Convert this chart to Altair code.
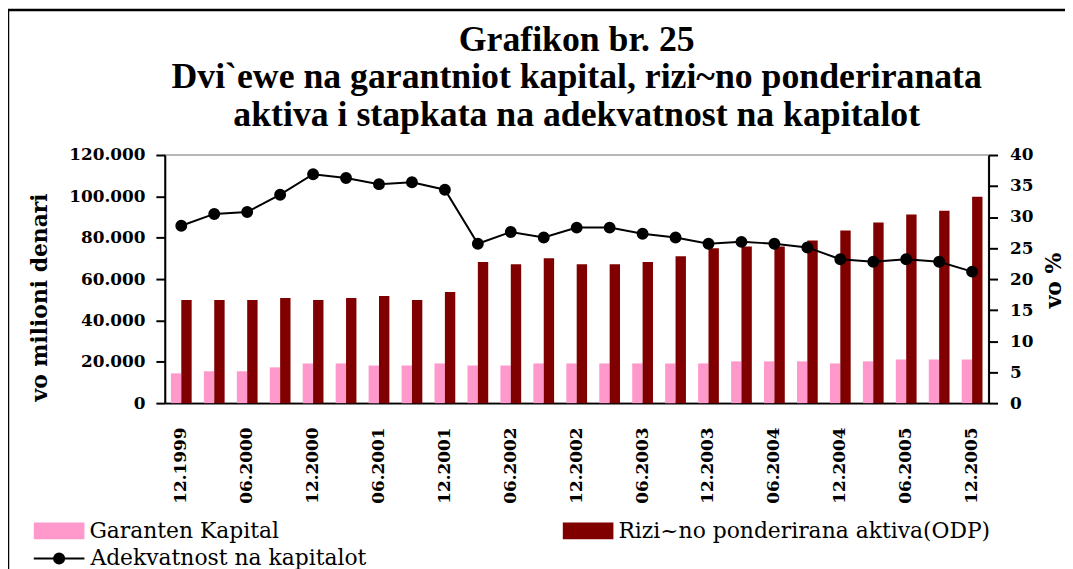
import altair as alt
import pandas as pd

periods = ["12.1999", "03.2000", "06.2000", "09.2000", "12.2000", "03.2001", "06.2001",
           "09.2001", "12.2001", "03.2002", "06.2002", "09.2002", "12.2002", "03.2003",
           "06.2003", "09.2003", "12.2003", "03.2004", "06.2004", "09.2004", "12.2004",
           "03.2005", "06.2005", "09.2005", "12.2005"]
tick_labels = periods[::2]

garanten = [14400, 15400, 15400, 17300, 19200, 19200, 18200, 18200, 19200, 18200,
            18200, 19200, 19200, 19200, 19200, 19200, 19200, 20200, 20200, 20200,
            19200, 20200, 21100, 21100, 21100]
rizicno = [49900, 49900, 49900, 50900, 49900, 50900, 51800, 49900, 53800, 68200,
           67200, 70100, 67200, 67200, 68200, 71000, 74900, 75800, 75800, 78700,
           83500, 87400, 91200, 93100, 99800]
adekvatnost = [28.6, 30.5, 30.8, 33.6, 36.9, 36.3, 35.3, 35.6, 34.4, 25.7, 27.6, 26.7,
               28.3, 28.3, 27.3, 26.7, 25.7, 26.0, 25.7, 25.1, 23.2, 22.8, 23.2, 22.8, 21.2]

bar_series = ["Garanten Kapital", "Rizi~no ponderirana aktiva(ODP)"]
line_series = ["Adekvatnost na kapitalot"]
bar_colors = ["#FF99CC", "#800000"]

title_lines = ["Grafikon br. 25",
               "Dvi`ewe na garantniot kapital, rizi~no ponderiranata",
               "aktiva i stapkata na adekvatnost na kapitalot"]

rows = []
for p, g, r in zip(periods, garanten, rizicno):
    rows.append({"period": p, "series": bar_series[0], "value": g})
    rows.append({"period": p, "series": bar_series[1], "value": r})
bar_df = pd.DataFrame(rows)
line_df = pd.DataFrame({"period": periods, "pct": adekvatnost, "name": line_series[0]})

LABEL_FONT = "DejaVu Serif"

x_enc = alt.X("period:N", sort=periods, title=None,
              scale=alt.Scale(paddingInner=0.37, paddingOuter=0.185),
              axis=alt.Axis(values=tick_labels, labelAngle=-90, labelAlign="right",
                            labelBaseline="middle", ticks=False, tickSize=0,
                            labelPadding=24, domainColor="black", domainWidth=2,
                            labelFont=LABEL_FONT, labelFontWeight="bold",
                            labelFontSize=17, labelColor="black", grid=False))

bars = alt.Chart(bar_df).mark_bar().encode(
    x=x_enc,
    xOffset=alt.XOffset("series:N", sort=bar_series,
                        scale=alt.Scale(paddingInner=0, paddingOuter=0)),
    y=alt.Y("value:Q", title="vo milioni denari",
            scale=alt.Scale(domain=[0, 120000]),
            axis=alt.Axis(values=[0, 20000, 40000, 60000, 80000, 100000, 120000],
                          labelExpr="replace(format(datum.value, ','), ',', '.')",
                          grid=False, domainColor="black", domainWidth=2,
                          tickColor="black", tickWidth=2, tickSize=9,
                          labelPadding=11, labelFont=LABEL_FONT,
                          labelFontWeight="bold", labelFontSize=17, labelColor="black",
                          titleFont=LABEL_FONT, titleFontWeight="bold", titleFontSize=22,
                          titleColor="black", titleAngle=270, titleX=-126, titleY=143,
                          titleAlign="center", titleBaseline="middle")),
    color=alt.Color("series:N", sort=bar_series,
                    scale=alt.Scale(domain=bar_series, range=bar_colors),
                    legend=alt.Legend(title=None, orient="none", legendX=-132, legendY=353,
                                      columns=2, columnPadding=285, direction="horizontal",
                                      symbolType="M-1,-0.333H1V0.333H-1Z",
                                      symbolSize=2601, symbolStrokeWidth=0,
                                      labelFont=LABEL_FONT, labelFontSize=22,
                                      labelColor="black", labelOffset=5, padding=0,
                                      labelLimit=600)),
)

line = alt.Chart(line_df).mark_line(
    strokeWidth=2,
    point=alt.OverlayMarkDef(filled=True, size=100, color="black"),
).encode(
    x=alt.X("period:N", sort=periods),
    y=alt.Y("pct:Q", title="vo %", scale=alt.Scale(domain=[0, 40]),
            axis=alt.Axis(orient="right", values=[0, 5, 10, 15, 20, 25, 30, 35, 40],
                          grid=False, domainColor="black", domainWidth=2,
                          tickColor="black", tickWidth=2, tickSize=9,
                          labelPadding=12, labelFont=LABEL_FONT,
                          labelFontWeight="bold", labelFontSize=17, labelColor="black",
                          titleFont=LABEL_FONT, titleFontWeight="bold", titleFontSize=22,
                          titleColor="black", titleAngle=270, titleX=65, titleY=126,
                          titleAlign="center", titleBaseline="middle")),
    stroke=alt.Stroke("name:N", scale=alt.Scale(domain=line_series, range=["black"]),
                      legend=alt.Legend(title=None, orient="none", legendX=-133, legendY=380,
                                        symbolType="M-1,0H1M0.2,0A0.2,0.2,0,1,1,-0.2,0A0.2,0.2,0,1,1,0.2,0Z",
                                        symbolSize=2601, symbolStrokeWidth=2,
                                        symbolFillColor="black", symbolStrokeColor="black",
                                        labelFont=LABEL_FONT, labelFontSize=22,
                                        labelColor="black", labelOffset=5, padding=0,
                                        labelLimit=600)),
)

frame = alt.Chart(alt.Data(values=[{"f": 1}])).mark_rect(
    fill=None, stroke="black", strokeWidth=2.5
).encode(x=alt.value(-158), x2=alt.value(940), y=alt.value(-146), y2=alt.value(440))

chart = alt.layer(bars, line, frame).resolve_scale(
    y="independent", color="independent", stroke="independent"
).properties(
    width=830, height=250,
    title=alt.TitleParams(text=title_lines, font="Liberation Serif", fontSize=36,
                          fontWeight="bold", color="black", anchor="middle",
                          frame="group", lineHeight=38, offset=0, dy=126),
    autosize=alt.AutoSizeParams(type="none"),
    padding={"left": 158, "top": 146, "right": 77, "bottom": 165},
    background="white",
).configure_view(stroke="#a0a0a0", strokeWidth=1.5)

chart.save("out.html", embed_options={"renderer": "svg", "actions": False})
